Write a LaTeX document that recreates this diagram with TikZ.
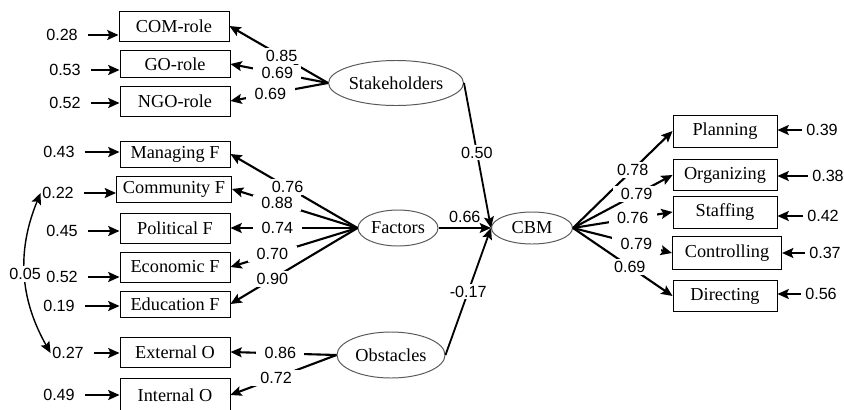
\documentclass[tikz,border=0pt]{standalone}
\usepackage{fontspec}
\setmainfont{Liberation Serif}
\setsansfont{Liberation Sans}
\usetikzlibrary{positioning,shapes.geometric,arrows.meta}

\begin{document}
\begin{tikzpicture}[x=0.025cm,y=-0.025cm,>={Stealth[length=8pt,width=7pt,inset=1.5pt]}]
\tikzstyle{mv} = [draw,fill=white,shape=rectangle,line width=0.6pt,minimum width=2.75cm,minimum height=0.75cm,inner sep=0pt,font=\fontsize{13}{15}\selectfont]
\tikzstyle{lv} = [draw=black!65,fill=white,shape=ellipse,line width=0.7pt,inner sep=0pt,font=\fontsize{13}{15}\selectfont]
\tikzstyle{ld} = [fill=white,inner xsep=6pt,inner ysep=1.5pt,font=\sffamily\fontsize{11.5}{13}\selectfont]
\tikzstyle{er} = [inner sep=1pt,font=\sffamily\fontsize{11.5}{13}\selectfont]
\tikzstyle{load} = [->,line width=1.5pt]
\tikzstyle{errl} = [->,line width=1.6pt,shorten <=6pt]
\tikzstyle{errr} = [->,line width=1.6pt,shorten <=2pt]
\useasboundingbox (0,0) rectangle (844,409);

% latent variables
\node[lv,minimum width=3.375cm,minimum height=1.125cm] (Stake) at (396,83) {Stakeholders};
\node[lv,minimum width=2cm,minimum height=0.9cm] (Fact) at (398,228) {Factors};
\node[lv,minimum width=2.7cm,minimum height=1.15cm] (Obst) at (391,355) {Obstacles};
\node[lv,minimum width=2.025cm,minimum height=0.8cm] (CBM) at (532,228) {CBM};

% indicators, left
\node[mv] (COM) at (174,26) {COM-role};
\node[mv,minimum height=0.68cm] (GO) at (175,64) {GO-role};
\node[mv] (NGO) at (175,101) {NGO-role};
\node[mv,minimum height=0.65cm] (Man) at (175,154) {Managing F};
\node[mv,minimum width=2.875cm,minimum height=0.65cm] (Com) at (174,189) {Community F};
\node[mv] (Pol) at (175,228) {Political F};
\node[mv] (Eco) at (175,267) {Economic F};
\node[mv,minimum height=0.65cm] (Edu) at (175,304) {Education F};
\node[mv] (Ext) at (175,352) {External O};
\node[mv,minimum height=0.85cm] (Int) at (175,395) {Internal O};

% indicators, right
\node[mv,minimum width=2.6cm,minimum height=0.8cm] (Plan) at (725,131) {Planning};
\node[mv,minimum width=2.6cm,minimum height=0.78cm] (Org) at (725,175) {Organizing};
\node[mv,minimum width=2.6cm,minimum height=0.8cm] (Sta) at (725,212) {Staffing};
\node[mv,minimum width=2.73cm,minimum height=0.82cm] (Con) at (727,253) {Controlling};
\node[mv,minimum width=2.6cm,minimum height=0.78cm] (Dir) at (725,296) {Directing};

% error terms
\node[er] (e28) at (62,35) {0.28};
\node[er] (e53) at (65,70) {0.53};
\node[er] (e52a) at (65,103) {0.52};
\node[er] (e43) at (59,152) {0.43};
\node[er] (e22) at (58,193) {0.22};
\node[er] (e45) at (62,231) {0.45};
\node[er] (e52b) at (62,277) {0.52};
\node[er] (e19) at (59,306) {0.19};
\node[er] (e27) at (68,353) {0.27};
\node[er] (e49) at (59,395) {0.49};
\node[er] (r39) at (822,130) {0.39};
\node[er] (r38) at (828,176) {0.38};
\node[er] (r42) at (823,216) {0.42};
\node[er] (r37) at (825,253) {0.37};
\node[er] (r56) at (821,294) {0.56};

\draw[errl] (e28) -- (e28 -| COM.west);
\draw[errl] (e53) -- (e53 -| GO.west);
\draw[errl] (e52a) -- (e52a -| NGO.west);
\draw[errl] (e43) -- (e43 -| Man.west);
\draw[errl] (e22) -- (e22 -| Com.west);
\draw[errl] (e45) -- (e45 -| Pol.west);
\draw[errl] (e52b) -- (e52b -| Eco.west);
\draw[errl] (e19) -- (e19 -| Edu.west);
\draw[errl] (e27) -- (e27 -| Ext.west);
\draw[errl] (e49) -- (e49 -| Int.west);
\draw[errr] (r39) -- (r39 -| Plan.east);
\draw[errr] (r38) -- (r38 -| Org.east);
\draw[errr] (r42) -- (r42 -| Sta.east);
\draw[errr] (r37) -- (r37 -| Con.east);
\draw[errr] (r56) -- (r56 -| Dir.east);

% correlated errors
\draw[<->,line width=1pt] (e22.west) to[bend right=26] node[ld,inner xsep=1pt]{0.05} (e27.west);

% loadings
\draw[load] (Stake.west) -- node[ld,pos=0.47]{0.85} (COM.east);
\draw[load] (Stake.west) -- node[ld,pos=0.52]{0.69} (GO.east);
\draw[load] (Stake.west) -- node[ld,pos=0.59]{0.69} (NGO.east);
\draw[load] (Fact.west) -- node[ld,pos=0.55]{0.76} (Man.east);
\draw[load] (Fact.west) -- node[ld,pos=0.64]{0.88} (Com.east);
\draw[load] (Fact.west) -- node[ld,pos=0.63]{0.74} (Pol.east);
\draw[load] (Fact.west) -- node[ld,pos=0.67]{0.70} (Eco.east);
\draw[load] (Fact.west) -- node[ld,pos=0.67]{0.90} (Edu.east);
\draw[load] (Obst.west) -- node[ld,pos=0.53]{0.86} (Ext.east);
\draw[load] (Obst.west) -- node[ld,pos=0.57]{0.72} (Int.east);
\draw[load] (CBM.east) -- node[ld,pos=0.6]{0.78} (Plan.west);
\draw[load] (CBM.east) -- node[ld,pos=0.64]{0.79} (Org.west);
\draw[load] (CBM.east) -- node[ld,pos=0.6]{0.76} (Sta.west);
\draw[load] (CBM.east) -- node[ld,pos=0.64]{0.79} (Con.west);
\draw[load] (CBM.east) -- node[ld,pos=0.57]{0.69} (Dir.west);

% structural paths
\draw[->,line width=1.3pt] (Stake.east) -- node[ld,pos=0.48]{0.50} (CBM.west);
\draw[->,line width=1.3pt] (Fact.east) -- node[er,above=2pt]{0.66} (CBM.west);
\draw[->,line width=1.3pt] (Obst.east) -- node[ld,pos=0.5]{-0.17} (CBM.west);
\end{tikzpicture}
\end{document}
